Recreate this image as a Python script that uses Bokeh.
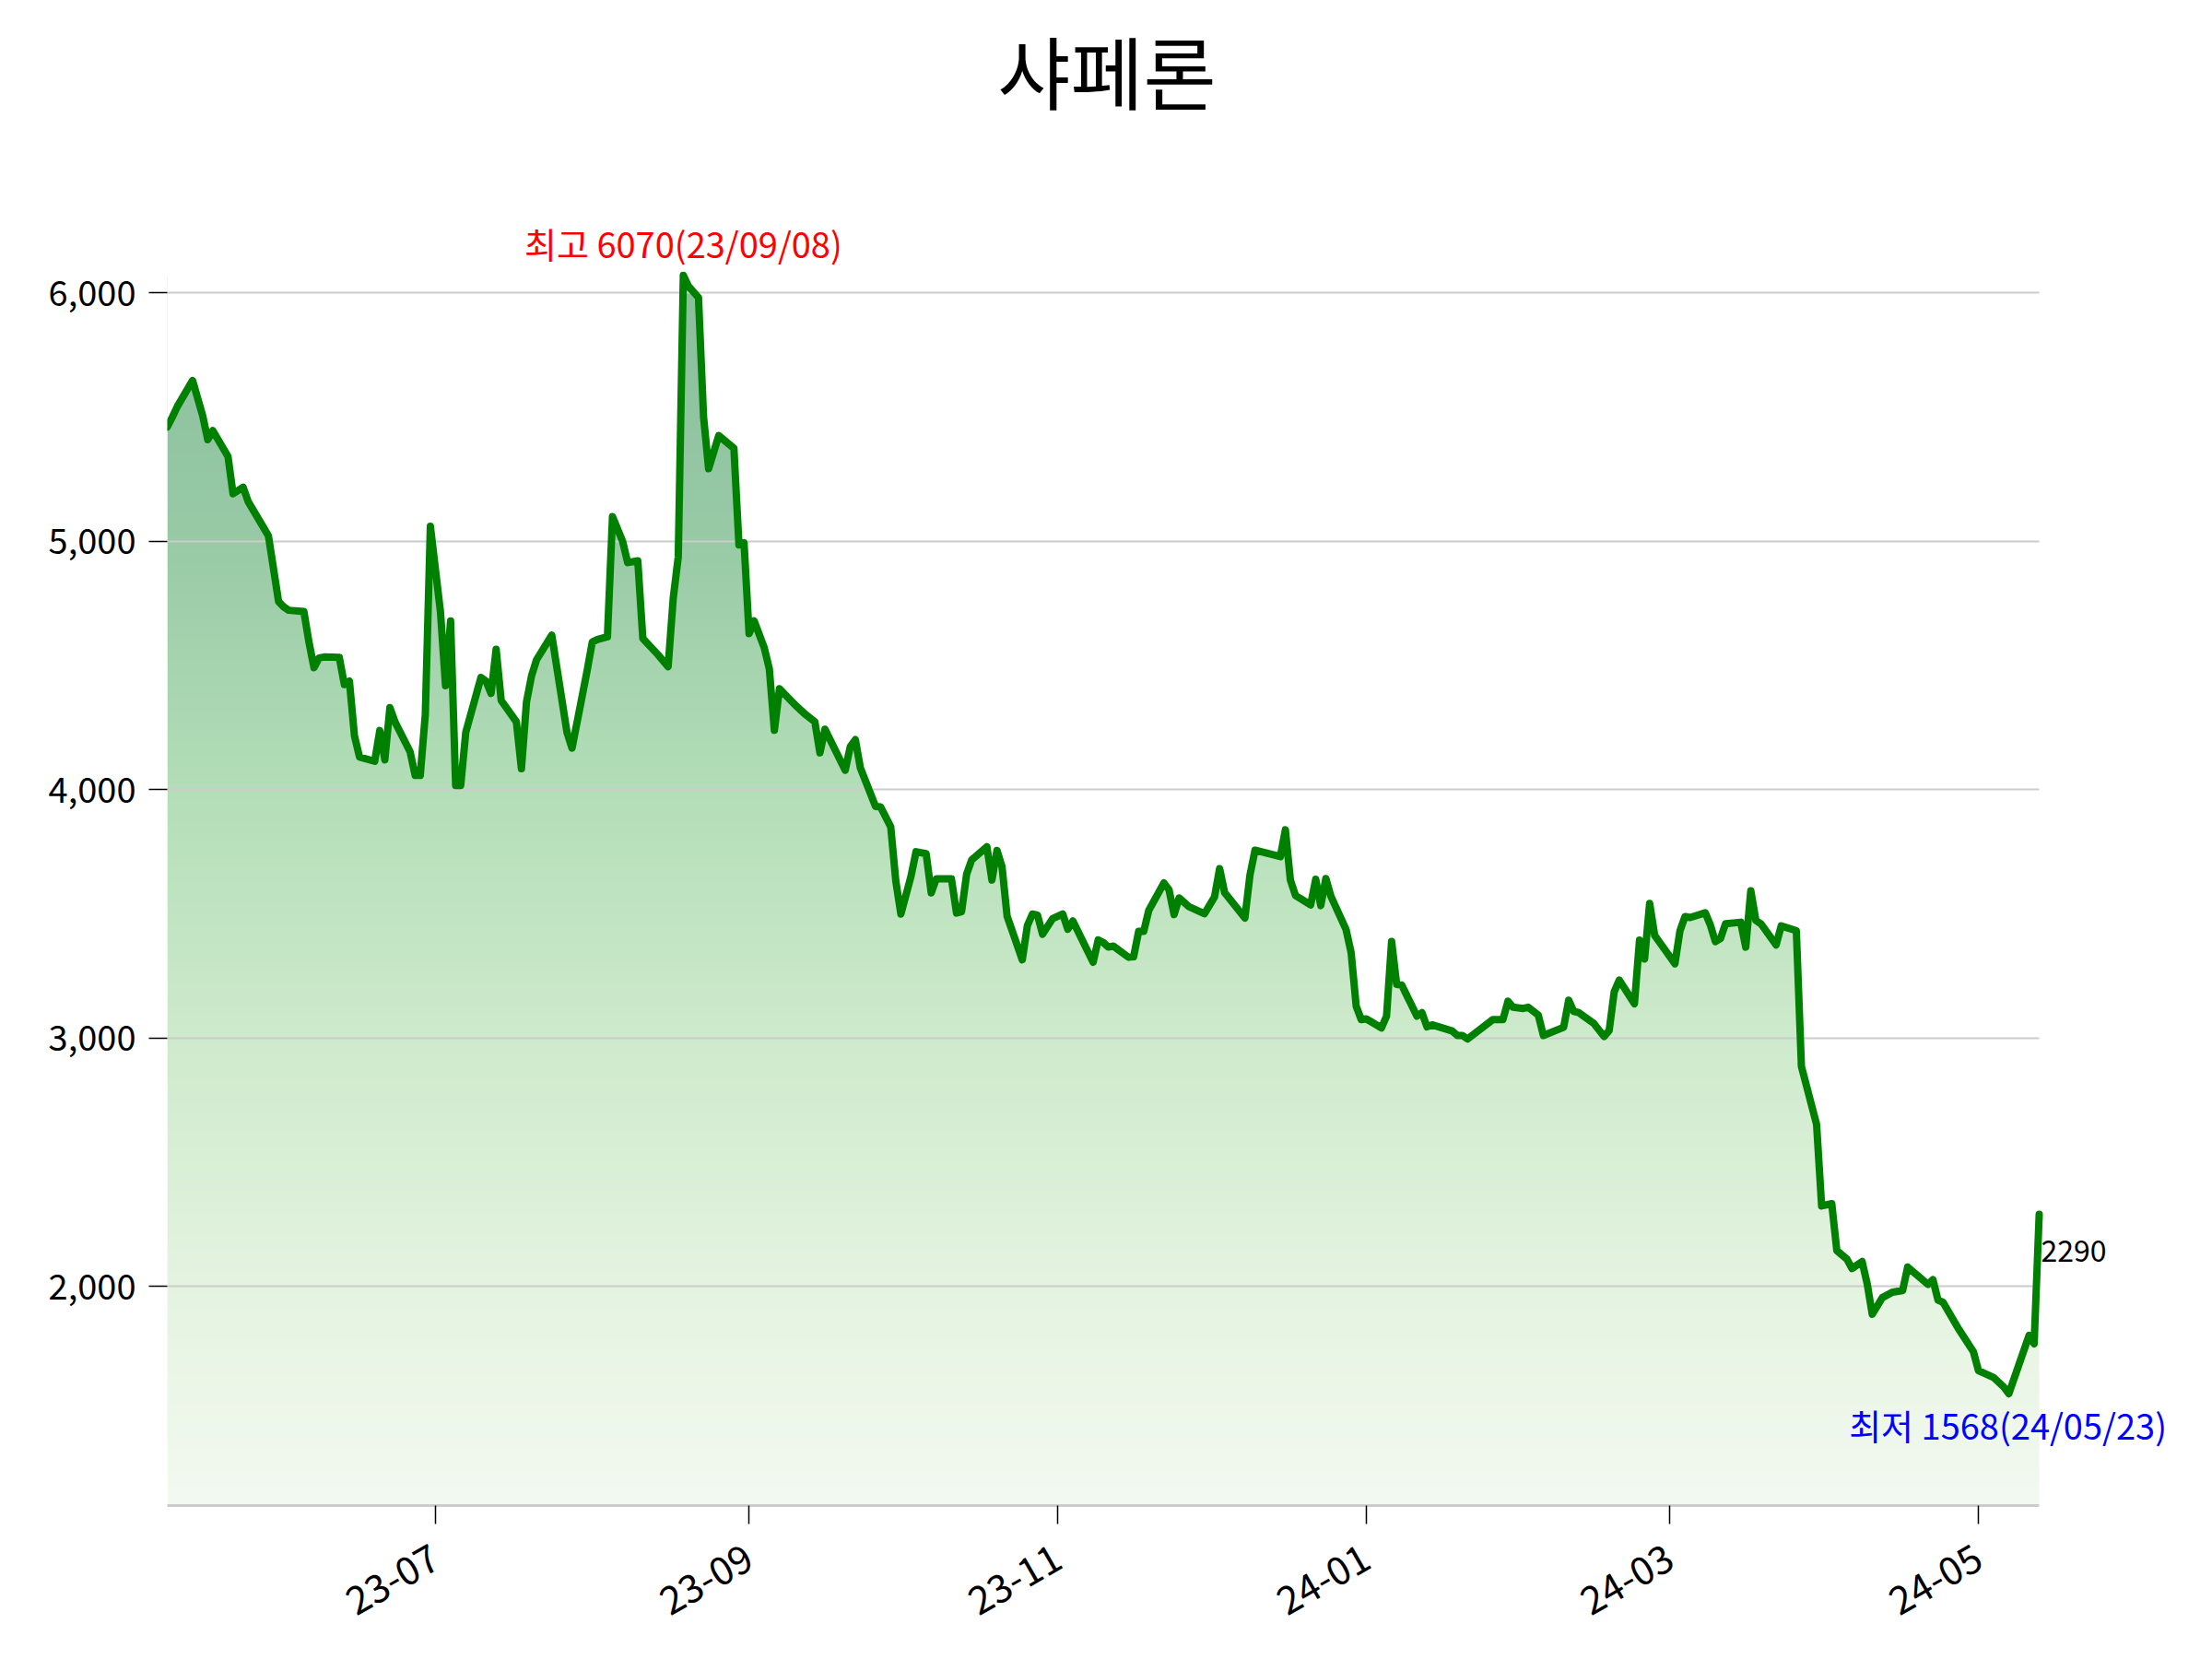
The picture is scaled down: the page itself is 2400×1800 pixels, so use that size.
import numpy as np
import pandas as pd
from bokeh.plotting import figure
from bokeh.models import Range1d, FixedTicker, DatetimeTickFormatter, NumeralTickFormatter, Label
from bokeh.embed import file_html
from bokeh.resources import INLINE

FONT = "Noto Sans CJK KR"

title_text = "샤페론"
max_label = "최고 6070(23/09/08)"
min_label = "최저 1568(24/05/23)"

dates = [
    "2023-05-09", "2023-05-10", "2023-05-11", "2023-05-14", "2023-05-16", "2023-05-17", "2023-05-18",
    "2023-05-21", "2023-05-22", "2023-05-24", "2023-05-25", "2023-05-28", "2023-05-29", "2023-05-31",
    "2023-06-01", "2023-06-02", "2023-06-05", "2023-06-06", "2023-06-07", "2023-06-08", "2023-06-09",
    "2023-06-12", "2023-06-13", "2023-06-14", "2023-06-15", "2023-06-16", "2023-06-19", "2023-06-20",
    "2023-06-21", "2023-06-22", "2023-06-23", "2023-06-26", "2023-06-27", "2023-06-28", "2023-06-29",
    "2023-06-30", "2023-07-02", "2023-07-03", "2023-07-04", "2023-07-05", "2023-07-06", "2023-07-07",
    "2023-07-10", "2023-07-11", "2023-07-12", "2023-07-13", "2023-07-14", "2023-07-17", "2023-07-18",
    "2023-07-19", "2023-07-20", "2023-07-21", "2023-07-24", "2023-07-27", "2023-07-28", "2023-07-31",
    "2023-08-01", "2023-08-02", "2023-08-04", "2023-08-05", "2023-08-07", "2023-08-08", "2023-08-10",
    "2023-08-11", "2023-08-14", "2023-08-16", "2023-08-17", "2023-08-18", "2023-08-19", "2023-08-20",
    "2023-08-22", "2023-08-23", "2023-08-24", "2023-08-26", "2023-08-29", "2023-08-30", "2023-08-31",
    "2023-09-01", "2023-09-02", "2023-09-04", "2023-09-05", "2023-09-06", "2023-09-07", "2023-09-10",
    "2023-09-12", "2023-09-14", "2023-09-15", "2023-09-16", "2023-09-20", "2023-09-21", "2023-09-22",
    "2023-09-23", "2023-09-26", "2023-09-27", "2023-09-29", "2023-09-30", "2023-10-01", "2023-10-03",
    "2023-10-04", "2023-10-06", "2023-10-07", "2023-10-08", "2023-10-11", "2023-10-12", "2023-10-13",
    "2023-10-14", "2023-10-15", "2023-10-18", "2023-10-19", "2023-10-20", "2023-10-21", "2023-10-22",
    "2023-10-25", "2023-10-26", "2023-10-27", "2023-10-28", "2023-10-29", "2023-10-31", "2023-11-02",
    "2023-11-03", "2023-11-04", "2023-11-08", "2023-11-09", "2023-11-10", "2023-11-11", "2023-11-12",
    "2023-11-15", "2023-11-16", "2023-11-17", "2023-11-18", "2023-11-19", "2023-11-22", "2023-11-23",
    "2023-11-24", "2023-11-25", "2023-11-27", "2023-11-30", "2023-12-02", "2023-12-03", "2023-12-04",
    "2023-12-08", "2023-12-09", "2023-12-10", "2023-12-15", "2023-12-16", "2023-12-17", "2023-12-18",
    "2023-12-21", "2023-12-22", "2023-12-23", "2023-12-24", "2023-12-25", "2023-12-28", "2023-12-29",
    "2023-12-30", "2023-12-31", "2024-01-01", "2024-01-04", "2024-01-05", "2024-01-06", "2024-01-07",
    "2024-01-08", "2024-01-11", "2024-01-12", "2024-01-13", "2024-01-14", "2024-01-18", "2024-01-19",
    "2024-01-20", "2024-01-21", "2024-01-26", "2024-01-28", "2024-01-29", "2024-01-30", "2024-02-01",
    "2024-02-02", "2024-02-04", "2024-02-05", "2024-02-09", "2024-02-10", "2024-02-11", "2024-02-12",
    "2024-02-15", "2024-02-17", "2024-02-18", "2024-02-19", "2024-02-20", "2024-02-23", "2024-02-24",
    "2024-02-25", "2024-02-26", "2024-02-27", "2024-02-29", "2024-03-02", "2024-03-03", "2024-03-04",
    "2024-03-05", "2024-03-08", "2024-03-09", "2024-03-10", "2024-03-11", "2024-03-12", "2024-03-15",
    "2024-03-16", "2024-03-17", "2024-03-18", "2024-03-19", "2024-03-22", "2024-03-23", "2024-03-26",
    "2024-03-27", "2024-03-30", "2024-03-31", "2024-04-02", "2024-04-03", "2024-04-05", "2024-04-06",
    "2024-04-08", "2024-04-09", "2024-04-10", "2024-04-12", "2024-04-14", "2024-04-16", "2024-04-17",
    "2024-04-21", "2024-04-22", "2024-04-23", "2024-04-24", "2024-04-27", "2024-04-30", "2024-05-01",
    "2024-05-04", "2024-05-06", "2024-05-07", "2024-05-11", "2024-05-12", "2024-05-13",
]

prices = [
    5460, 5500, 5543, 5647, 5505, 5409, 5445,
    5341, 5191, 5217, 5159, 5056, 5021, 4757,
    4736, 4722, 4717, 4594, 4491, 4530, 4534,
    4532, 4423, 4437, 4216, 4131, 4114, 4238,
    4120, 4330, 4273, 4152, 4057, 4057, 4302,
    5060, 4715, 4418, 4679, 4017, 4017, 4231,
    4451, 4437, 4387, 4565, 4359, 4273, 4084,
    4352, 4458, 4523, 4622, 4231, 4167, 4480,
    4594, 4604, 4615, 5099, 5000, 4914, 4921,
    4608, 4543, 4495, 4770, 4937, 6070, 6027,
    5981, 5501, 5292, 5425, 5374, 4985, 4994,
    4628, 4679, 4571, 4486, 4239, 4406, 4343,
    4305, 4273, 4148, 4243, 4078, 4173, 4201,
    4087, 3932, 3930, 3850, 3632, 3499, 3651,
    3750, 3742, 3584, 3641, 3641, 3503, 3509,
    3660, 3717, 3770, 3636, 3755, 3689, 3490,
    3315, 3452, 3499, 3495, 3418, 3481, 3499,
    3438, 3471, 3305, 3395, 3385, 3366, 3370,
    3325, 3327, 3429, 3429, 3514, 3624, 3597,
    3497, 3564, 3528, 3500, 3568, 3682, 3585,
    3483, 3656, 3756, 3730, 3838, 3635, 3574,
    3536, 3639, 3533, 3642, 3571, 3436, 3344,
    3128, 3074, 3077, 3041, 3088, 3389, 3216,
    3213, 3088, 3102, 3045, 3053, 3028, 3010,
    3010, 2996, 3074, 3074, 3148, 3124, 3119,
    3124, 3092, 3010, 3043, 3152, 3107, 3102,
    3058, 3006, 3030, 3186, 3233, 3138, 3394,
    3318, 3542, 3413, 3356, 3299, 3432, 3489,
    3485, 3504, 3455, 3388, 3400, 3460, 3466,
    3366, 3593, 3473, 3460, 3375, 3451, 3432,
    2886, 2652, 2324, 2333, 2144, 2110, 2072,
    2100, 2011, 1888, 1955, 1977, 1983, 2078,
    2008, 2027, 1945, 1936, 1831, 1737, 1661,
    1633, 1595, 1568, 1803, 1769, 2290,
]

x_tick_dates = ["2023-07-01", "2023-09-01", "2023-11-01", "2024-01-01", "2024-03-01", "2024-05-01"]
y_ticks = [2000, 3000, 4000, 5000, 6000]

# vertical gradient stops (value level -> rgb)
grad_levels = [1118, 2000, 3000, 4000, 5000, 6070]
grad_colors = [(243, 249, 240), (228, 243, 224), (206, 234, 204), (179, 222, 183), (152, 202, 166), (137, 189, 155)]

dt = pd.to_datetime(dates)
pr = np.array(prices, dtype=float)
EPOCH = pd.Timestamp("1970-01-01")
ms = ((dt - EPOCH) // pd.Timedelta(milliseconds=1)).to_numpy().astype(float)

pmax, pmin = pr.max(), pr.min()
span = pmax - pmin
y_lo = pmin - 0.1 * span
y_hi = pmax + 0.1 * span
i_max = int(np.argmax(pr))
i_min = int(np.argmin(pr))

# layout: the axes area is 2031 x 1456 px; the frame is extended to the right and to the top
# so that the texts placed there (title, last value, low label) are drawn
W, H = 2384, 1784
BL, BR, BT, BB = 181, 8, 0, 151
data_w, data_top = 2031, 177
frame_w = W - BL - BR
frame_h = H - BT - BB
x_end = ms[0] + (ms[-1] - ms[0]) * frame_w / data_w
y_end = y_lo + (y_hi - y_lo) * frame_h / (H - BB - data_top)

p = figure(width=W, height=H, output_backend="svg", toolbar_location=None,
           x_axis_type="datetime",
           x_range=Range1d(ms[0], x_end), y_range=Range1d(y_lo, y_end),
           min_border_left=BL, min_border_right=BR, min_border_top=BT, min_border_bottom=BB)
p.outline_line_color = None
p.background_fill_color = "white"
p.border_fill_color = "white"

# gradient image, then white mask above the line
N = 300
levels = np.linspace(y_lo, pmax, N)
img = np.empty((N, 2), dtype=np.uint32)
view = img.view(dtype=np.uint8).reshape((N, 2, 4))
for c in range(3):
    ch = np.interp(levels, grad_levels, [g[c] for g in grad_colors])
    view[:, :, c] = np.round(ch).astype(np.uint8)[:, None]
view[:, :, 3] = 255
p.image_rgba(image=[img], x=ms[0], y=y_lo, dw=ms[-1] - ms[0], dh=pmax - y_lo, level="image")
pad = (ms[-1] - ms[0]) * 0.05
mx = np.concatenate([[ms[0] - pad], ms, [ms[-1] + pad]])
my = np.concatenate([[pr[0]], pr, [y_lo - span]])
p.varea(x=mx, y1=my, y2=y_end + span, fill_color="white", level="image")

p.line(ms, pr, line_color="#008000", line_width=8, line_join="round", line_cap="round")

# axes
tick_ms = [float((pd.Timestamp(d) - EPOCH) // pd.Timedelta(milliseconds=1)) for d in x_tick_dates]
p.xaxis.ticker = FixedTicker(ticks=tick_ms, minor_ticks=[])
fmt = "%y-%m"
p.xaxis.formatter = DatetimeTickFormatter(days=fmt, months=fmt, years=fmt, hours=fmt, hourmin=fmt)
p.xaxis.major_label_orientation = np.pi / 6
p.xaxis.axis_line_color = "#cccccc"
p.xaxis.axis_line_width = 3
p.xaxis.bounds = (ms[0], ms[-1])
p.xaxis.major_tick_line_color = "black"
p.xaxis.major_tick_line_width = 1.5
p.xaxis.major_tick_out = 20
p.xaxis.major_tick_in = 0
p.xaxis.minor_tick_line_color = None
p.xaxis.major_label_standoff = 33
p.xaxis.major_label_text_font_size = "42px"

p.yaxis.ticker = FixedTicker(ticks=y_ticks, minor_ticks=[])
p.yaxis.formatter = NumeralTickFormatter(format="0,0")
p.yaxis.axis_line_color = None
p.yaxis.major_tick_line_color = "black"
p.yaxis.major_tick_line_width = 1.5
p.yaxis.major_tick_out = 20
p.yaxis.major_tick_in = 0
p.yaxis.minor_tick_line_color = None
p.yaxis.major_label_standoff = 14
p.yaxis.major_label_text_font_size = "38px"

for ax in (p.xaxis, p.yaxis):
    ax.major_label_text_font = FONT
    ax.major_label_text_color = "black"

p.xgrid.visible = False
p.ygrid.grid_line_color = "#cccccc"
p.ygrid.grid_line_width = 2
p.ygrid.cross_bounds = (ms[0], ms[-1])

# texts
p.add_layout(Label(x=(ms[0] + ms[-1]) / 2, y=y_hi, x_offset=4, y_offset=102, text=title_text,
                   text_font=FONT, text_font_size="86px", text_color="black",
                   text_align="center", text_baseline="middle"))
p.add_layout(Label(x=ms[i_max], y=pr[i_max], y_offset=35, text=max_label,
                   text_font=FONT, text_font_size="38px", text_color="red",
                   text_align="center", text_baseline="alphabetic"))
p.add_layout(Label(x=ms[i_min], y=pr[i_min], y_offset=-33, x_offset=-1, text=min_label,
                   text_font=FONT, text_font_size="38px", text_color="blue",
                   text_align="center", text_baseline="alphabetic"))
p.add_layout(Label(x=ms[-1], y=pr[-1], y_offset=-39, x_offset=2, text=str(int(pr[-1])),
                   text_font=FONT, text_font_size="32px", text_color="black",
                   text_align="left", text_baseline="alphabetic"))

open("out.html", "w").write(file_html(p, INLINE))
